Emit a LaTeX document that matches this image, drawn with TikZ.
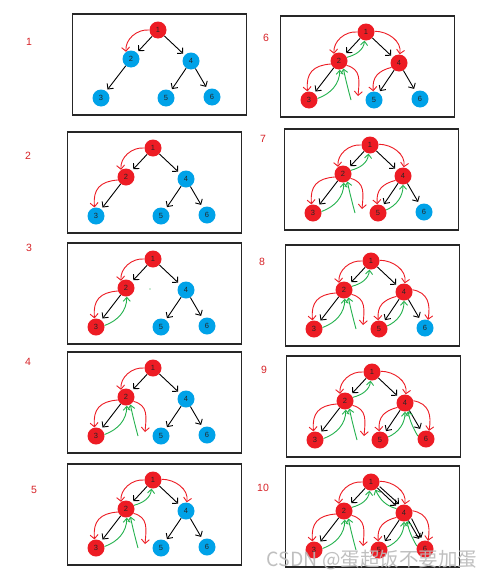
\documentclass[tikz,border=0pt]{standalone}
\usepackage{fontspec}
\setmainfont{Liberation Sans}
\newfontfamily\cjkf{Noto Sans CJK SC}
\usetikzlibrary{arrows.meta}
\definecolor{pred}{RGB}{237,28,36}
\definecolor{pblue}{RGB}{0,162,232}
\definecolor{pgreen}{RGB}{34,177,76}
\definecolor{lblred}{RGB}{215,35,40}
\tikzset{
 vis/.style={circle, fill=pred, minimum size=17pt, inner sep=0pt, text=black!85, font=\fontsize{7.5}{8}\selectfont},
 unv/.style={vis, fill=pblue},
 edgearr/.style={draw=black, line width=0.9pt, -{Straight Barb[length=4pt,width=8pt]}, shorten >=2pt},
 redarr/.style={draw=pred, line width=0.9pt, -{Straight Barb[length=4pt,width=8pt]}},
 grnarr/.style={draw=pgreen, line width=0.9pt, -{Straight Barb[length=4pt,width=7pt]}},
 panelbox/.style={draw=black!85, line width=1.2pt},
 plabel/.style={text=lblred, font=\fontsize{10.5}{12}\selectfont},
}
% panel: id, x, y of node 1, styles of nodes 1..6
\newcommand\drawtree[9]{%
 \begin{scope}[shift={(#2,#3)}]
  \draw[panelbox] (-85.5,-16) rectangle (88.5,85);
  \node[#4] (p#1n1) at (0,0) {1};
  \node[#5] (p#1n2) at (-27,29) {2};
  \node[#6] (p#1n3) at (-57,68) {3};
  \node[#7] (p#1n4) at (33,31) {4};
  \node[#8] (p#1n5) at (8,68) {5};
  \node[#9] (p#1n6) at (54,67) {6};
  \coordinate (p#1f1) at (-8,64);
  \coordinate (p#1f2) at (-15,68);
  \draw[edgearr] (p#1n1) -- (p#1n2);
  \draw[edgearr] (p#1n1) -- (p#1n4);
  \draw[edgearr] (p#1n2) -- (p#1n3);
  \draw[edgearr] (p#1n4) -- (p#1n5);
  \draw[edgearr, shorten >=3pt] (p#1n4) -- (p#1n6);
 \end{scope}}
\newcommand\aRot[1]{\draw[redarr] (p#1n1.180) to[out=175,in=95] (p#1n2.125);}
\newcommand\aRtt[1]{\draw[redarr] (p#1n2.200) to[out=185,in=95,looseness=1.3] (p#1n3.100);}
\newcommand\aRtf[1]{\draw[redarr] (p#1n2.-30) to[out=-15,in=85,looseness=1.2] (p#1f1);}
\newcommand\aGtt[1]{\draw[grnarr] (p#1n3.10) to[out=20,in=-90] (p#1n2.-85);}
\newcommand\aGft[1]{\draw[grnarr] (p#1f2) to[out=105,in=-78] (p#1n2.-60);}
\newcommand\aGto[1]{\draw[grnarr] (p#1n2.25) to[out=15,in=-95] (p#1n1.-100);}
\newcommand\aRof[1]{\draw[redarr] (p#1n1.5) to[out=0,in=80] (p#1n4.85);}
\newcommand\aRff[1]{\draw[redarr] (p#1n4.210) to[out=195,in=95,looseness=1.2] (p#1n5.95);}
\newcommand\aGff[1]{\draw[grnarr] (p#1n5.20) to[out=25,in=-90] (p#1n4.-90);}
\newcommand\aRfs[1]{\draw[redarr] (p#1n4.15) to[out=-10,in=80,looseness=1.2] (p#1n6.70);}
\newcommand\aGsf[1]{\draw[grnarr] (p#1n6.160) to[out=120,in=-78] (p#1n4.-70);}
\newcommand\aGfo[1]{\draw[grnarr] (p#1n4.150) to[out=165,in=-65] (p#1n1.-60);}
\begin{document}
\begin{tikzpicture}[x=1pt,y=-1pt]
\useasboundingbox (0,0) rectangle (492,581);
\fill[white] (0,0) rectangle (492,581);
% panel labels
\node[plabel] (l1) at (29,42) {1};
\node[plabel] (l2) at (28,156) {2};
\node[plabel] (l3) at (29,248) {3};
\node[plabel] (l4) at (28,362) {4};
\node[plabel] (l5) at (34,490) {5};
\node[plabel] (l6) at (266,38) {6};
\node[plabel] (l7) at (263,139) {7};
\node[plabel] (l8) at (262,262) {8};
\node[plabel] (l9) at (264,370) {9};
\node[plabel] (l10) at (263,488) {10};
% panels
\drawtree{1}{158}{30}{vis}{unv}{unv}{unv}{unv}{unv}
\aRot{1}
\drawtree{2}{153}{148}{vis}{vis}{unv}{unv}{unv}{unv}
\aRot{2}\aRtt{2}
\drawtree{3}{153}{259}{vis}{vis}{vis}{unv}{unv}{unv}
\aRot{3}\aRtt{3}\aGtt{3}
\fill[pgreen] (150,289) circle (0.7);
\drawtree{4}{153}{368}{vis}{vis}{vis}{unv}{unv}{unv}
\aRot{4}\aRtt{4}\aGtt{4}\aRtf{4}\aGft{4}
\drawtree{5}{153}{480}{vis}{vis}{vis}{unv}{unv}{unv}
\aRot{5}\aRtt{5}\aGtt{5}\aRtf{5}\aGft{5}\aGto{5}\aRof{5}
\drawtree{6}{366}{32}{vis}{vis}{vis}{vis}{unv}{unv}
\aRot{6}\aRtt{6}\aGtt{6}\aRtf{6}\aGft{6}\aGto{6}\aRof{6}\aRff{6}
\drawtree{7}{370}{145}{vis}{vis}{vis}{vis}{vis}{unv}
\aRot{7}\aRtt{7}\aGtt{7}\aRtf{7}\aGft{7}\aGto{7}\aRof{7}\aRff{7}\aGff{7}
\drawtree{8}{371}{261}{vis}{vis}{vis}{vis}{vis}{unv}
\aRot{8}\aRtt{8}\aGtt{8}\aRtf{8}\aGft{8}\aGto{8}\aRof{8}\aRff{8}\aGff{8}\aRfs{8}
\drawtree{9}{372}{372}{vis}{vis}{vis}{vis}{vis}{vis}
\aRot{9}\aRtt{9}\aGtt{9}\aRtf{9}\aGft{9}\aGto{9}\aRof{9}\aRff{9}\aGff{9}\aRfs{9}\aGsf{9}
\drawtree{10}{371}{482}{vis}{vis}{vis}{vis}{vis}{vis}
\aRot{10}\aRtt{10}\aGtt{10}\aRtf{10}\aGft{10}\aGto{10}\aRof{10}\aRff{10}\aGff{10}\aRfs{10}\aGsf{10}\aGfo{10}
\draw[edgearr] ([xshift=2pt,yshift=1pt]p10n1.-40) -- ([xshift=2pt,yshift=1pt]p10n4.130);
\draw[edgearr, shorten >=3pt] ([xshift=2pt,yshift=1pt]p10n4.-50) -- ([xshift=2pt,yshift=1pt]p10n6.120);
% watermark
\node[font=\cjkf\fontsize{19.5}{21}\selectfont, text=gray!55, opacity=0.9, inner sep=0pt] (wm) at (372,560) {CSDN @蛋超饭不要加蛋};
\end{tikzpicture}
\end{document}
